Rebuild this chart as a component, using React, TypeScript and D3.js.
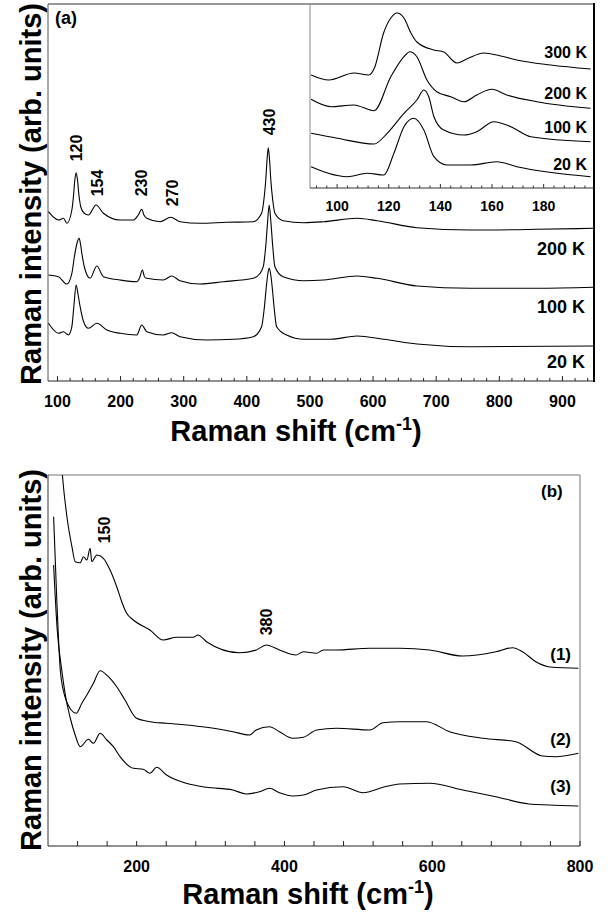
import * as d3 from 'd3';

type Pt = [number, number];

// Panel (a): main spectra, Raman shift (cm-1) vs stacked intensity (arb.)
const spec200K: Pt[] = [
  [85.8, 169.3], [101.6, 161], [109.5, 162.7], [114.9, 157.7], [122.8, 171], [125.5, 186], [127.5, 201],
  [129.6, 208.3], [131.7, 201], [134, 186], [137, 174], [142, 168], [149, 166], [161.2, 176], [172.8, 167.7],
  [199.2, 161], [220.3, 161], [228, 166], [233.5, 171.7], [237, 166], [241.5, 162.7], [262.5, 159.3],
  [279.4, 163.7], [294.1, 159.3], [325.8, 157.7], [368, 158.7], [410.1, 159.3], [423.4, 167.7], [427, 181],
  [430, 201], [432, 221], [434, 233.3], [436, 221], [438, 201], [441, 181], [444.5, 167.7], [457.6, 160.3],
  [490.4, 158.3], [522, 159.3], [574.7, 162.7], [606.3, 160.3], [669.6, 153.3], [754.1, 151], [859.5, 151.7],
  [949.2, 152.7],
];
const spec100K: Pt[] = [
  [85.8, 106], [101.6, 104.3], [114.9, 97], [122.8, 107.7], [127, 125], [131, 138], [134.3, 142.7],
  [136.5, 137], [138.6, 127.7], [143, 113], [151.7, 102.7], [162.3, 115], [172.8, 104.3], [199.2, 101],
  [225.6, 99.3], [230, 103], [234.5, 111], [238, 104], [241.5, 102.7], [267.7, 101], [281, 105], [294.1, 100.3],
  [325.8, 97], [362.7, 99.3], [410.1, 102.7], [420, 107], [426, 114.3], [430, 135], [433, 160], [435.4, 176],
  [438, 160], [441, 135], [444.5, 114.3], [457.6, 104.3], [490.4, 100.3], [522, 101], [574.7, 105],
  [606.3, 102.7], [669.6, 95], [754.1, 92.7], [859.5, 92.7], [949.2, 93.7],
];
const spec20K: Pt[] = [
  [85.8, 57.7], [101.6, 47.7], [109.5, 49.3], [117.4, 46], [122.8, 54.3], [126, 75], [129.6, 96], [132.5, 87],
  [135.9, 74.3], [141, 60], [149, 52.7], [162.3, 57.7], [178.2, 51], [199.2, 47.7], [225.6, 46], [233.5, 56],
  [241.5, 49.3], [267.7, 46], [281, 48.3], [294.1, 44.3], [336.3, 41], [378.5, 41.7], [410.1, 44.3],
  [423.4, 54.3], [428, 75], [431, 95], [433.5, 108], [435.4, 112.7], [437.5, 108], [440, 95], [443, 75],
  [447.2, 54.3], [463, 46], [490.4, 41.7], [532.6, 41.7], [574.7, 45], [616.9, 41.7], [669.6, 37],
  [754.1, 34.3], [949.2, 35],
];
const mainLabels = ['200 K', '100 K', '20 K'];
const mainPeaks = [
  { label: '120', x: 129.6 }, { label: '154', x: 161 }, { label: '230', x: 233 },
  { label: '270', x: 282 }, { label: '430', x: 434 },
];
const mainTicks = [100, 200, 300, 400, 500, 600, 700, 800, 900];

// Panel (a) inset: low-frequency region
const inset300K: Pt[] = [
  [89.9, 113], [96.8, 108], [106.5, 115], [112.3, 113], [114.6, 121], [118, 155], [120.8, 170], [123.2, 175],
  [125.9, 170], [128.6, 155], [130.9, 146], [137.5, 138], [141.3, 136], [146.4, 125], [150.2, 129],
  [156.8, 135], [163.4, 132], [169.6, 128], [182.7, 123], [198.2, 119],
];
const inset200K: Pt[] = [
  [89.9, 88.7], [97.6, 81.3], [106.5, 83], [114.3, 77.3], [120.8, 111.3], [125.9, 131.3], [128.2, 136.3],
  [130.9, 131.3], [134.8, 108], [138.6, 96.3], [144, 91.3], [149.1, 86.3], [154.1, 93], [159.9, 98.7],
  [165.7, 93], [177.3, 86.3], [198.2, 79.7],
];
const inset100K: Pt[] = [
  [89.9, 54.7], [100.1, 49.7], [114.3, 44], [119.4, 54.7], [125.9, 74.7], [130.9, 88], [133.6, 98],
  [135.5, 91.3], [137.5, 71.3], [141.3, 58], [149.1, 53], [154.1, 56.3], [160.7, 66.3], [167.3, 61.3],
  [175, 51.3], [198.2, 46.3],
];
const inset20K: Pt[] = [
  [89.9, 21.3], [104, 11.3], [111.7, 14.7], [118.1, 13], [122, 34.7], [125.9, 61.3], [129.7, 69.7],
  [133.6, 58], [137.5, 31.3], [142.5, 23], [151.8, 23], [161.8, 26.3], [169.6, 21.3], [198.2, 11.3],
];
const insetLabels = ['300 K', '200 K', '100 K', '20 K'];
const insetTicks = [100, 120, 140, 160, 180];

// Panel (b)
const specB1: Pt[] = [
  [95, 420], [99.7, 369.3], [105.6, 329.3], [112.4, 299.3], [116.8, 284.3], [123.6, 283.3], [128, 289.3],
  [132.6, 286], [137, 297.7], [139.3, 284.3], [146.1, 291], [154.9, 287.7], [164, 276], [173, 259.3],
  [179.8, 244.3], [186.5, 232.7], [195.4, 226], [217.9, 216], [235.9, 206], [253.9, 208.7], [276.3, 208.7],
  [283.1, 211], [294.4, 204.3], [339.3, 193.3], [361.8, 196], [375.3, 201], [393.2, 196], [415.7, 191],
  [425.6, 194.3], [443.5, 192.7], [452.5, 196], [470.5, 196], [515.5, 197.7], [556, 197.7], [596.4, 196],
  [641.3, 190], [686.2, 194.3], [708.7, 198.3], [722.2, 194.3], [740.1, 184.3], [762.6, 178.7], [797.8, 177.7],
];
const specB2: Pt[] = [
  [87.6, 329.3], [91.9, 246], [96.6, 176], [100.6, 156], [106, 143], [111.4, 136], [118.2, 132.7],
  [125.8, 142.7], [132.6, 151], [141.5, 162.7], [150.5, 175.3], [161.7, 169.3], [173, 159.3], [184.2, 146],
  [200, 127.7], [217.9, 124.3], [240.4, 122.7], [267.4, 121], [294.4, 118.7], [330.2, 114.3], [352.8, 111],
  [361.8, 116], [379.7, 119.3], [393.2, 114.3], [411.1, 107.7], [425.6, 108.7], [443.5, 116], [470.5, 117.7],
  [515.5, 116], [533.4, 123.3], [556, 124.3], [591.9, 124.3], [623.4, 114.3], [668.3, 107.7], [713.2, 104.3],
  [749.2, 90], [767.1, 89.3], [797.8, 92.7],
];
const specB3: Pt[] = [
  [87.6, 281], [92.5, 216], [98.6, 176], [104.7, 146], [110.1, 128], [116.8, 111], [123.6, 99.3],
  [134.7, 106.7], [141.5, 102.7], [150.5, 112.7], [159.6, 106], [168.5, 99.3], [177.5, 89.3], [195.4, 77.7],
  [208.9, 76.7], [217.9, 72.7], [227, 78.7], [240.4, 71], [267.4, 62.7], [294.4, 58.7], [330.2, 56],
  [348.3, 52], [366.2, 54.3], [379.7, 57.7], [393.2, 53.3], [411.1, 50], [425.6, 51], [443.5, 56],
  [479.5, 59.3], [506.5, 53.3], [533.4, 58.7], [556, 62], [596.4, 62.7], [641.3, 56], [686.2, 49.3],
  [731.2, 42], [758.2, 41], [797.8, 40],
];
const bLabels = ['(1)', '(2)', '(3)'];
const bPeaks = [{ label: '150', x: 150 }, { label: '380', x: 380 }];
const bTicks = [200, 400, 600, 800];

const FONT = '"Liberation Sans", Arial, sans-serif';

export default function App() {
  const W = 608, H = 912;

  // scales
  const xA = d3.scaleLinear().domain([85, 950]).range([48, 594]);
  const yA = d3.scaleLinear().domain([0, 377]).range([381, 4]);
  const xI = d3.scaleLinear().domain([89.5, 199.5]).range([310, 594]);
  const yI = d3.scaleLinear().domain([0, 184]).range([188, 4]);
  const xB = d3.scaleLinear().domain([80, 800]).range([48, 580]);
  const yB = d3.scaleLinear().domain([0, 371]).range([846, 475]);

  const lineA = d3.line<Pt>().x(d => xA(d[0])).y(d => yA(d[1])).curve(d3.curveMonotoneX);
  const lineI = d3.line<Pt>().x(d => xI(d[0])).y(d => yI(d[1])).curve(d3.curveMonotoneX);
  const lineB = d3.line<Pt>().x(d => xB(d[0])).y(d => yB(d[1])).curve(d3.curveMonotoneX);

  const mainSeries = [spec200K, spec100K, spec20K];
  const mainLabelY = [254.5, 313, 368];
  const insetSeries = [inset300K, inset200K, inset100K, inset20K];
  const insetLabelY = [58, 99, 133, 170];
  const bSeries = [specB1, specB2, specB3];
  const bLabelY = [660, 745, 792];

  const bold = { fontFamily: FONT, fontWeight: 700 as const };

  const title = (x: number, y: number, rotate: boolean, text: string) => (
    <text
      transform={`translate(${x},${y})${rotate ? ' rotate(-90)' : ''}`}
      textAnchor="middle" fontSize={29} {...bold}
    >
      {text}
    </text>
  );
  const xTitle = (x: number, y: number) => (
    <text x={x} y={y} textAnchor="middle" fontSize={29} {...bold}>
      Raman shift (cm<tspan fontSize={18} dy={-11}>-1</tspan><tspan dy={11}>)</tspan>
    </text>
  );

  return (
    <svg width={W} height={H} style={{ position: 'absolute', left: 0, top: 0, background: '#fff' }}>
      <defs>
        <clipPath id="clipB"><rect x={48} y={475} width={532} height={371} /></clipPath>
      </defs>

      {/* ---- panel (a) ---- */}
      <line x1={48} x2={594} y1={4} y2={4} stroke="#333" />
      <line x1={48} x2={48} y1={4} y2={381} stroke="#555" />
      <line x1={48} x2={595} y1={381} y2={381} stroke="#222" />
      <line x1={594} x2={594} y1={3} y2={382} stroke="#000" strokeWidth={2} />
      {d3.range(100, 950, 20).map(t => (
        <line key={'ta' + t} x1={xA(t)} x2={xA(t)} y1={381} y2={381 - (t % 100 === 0 ? 5 : 3)} stroke="#222" />
      ))}
      {mainTicks.map(t => (
        <text key={'la' + t} x={xA(t)} y={407} textAnchor="middle" fontSize={16} {...bold}>{t}</text>
      ))}
      {mainSeries.map((s, i) => (
        <path key={'ma' + i} d={lineA(s) || ''} fill="none" stroke="#000" strokeWidth={1.1} />
      ))}
      {mainLabels.map((l, i) => (
        <text key={'ml' + i} x={585} y={mainLabelY[i]} textAnchor="end" fontSize={18} {...bold}>{l}</text>
      ))}
      {mainPeaks.map((p, i) => {
        const cy = [148, 183, 183, 193, 122][i];
        const bx = [82, 103, 147, 178, 275][i];
        return (
          <text key={'pa' + i} transform={`translate(${bx},${cy}) rotate(-90)`} textAnchor="middle" fontSize={16} {...bold}>
            {p.label}
          </text>
        );
      })}
      <text x={55} y={24} fontSize={18} {...bold}>(a)</text>

      {/* inset */}
      <line x1={310} x2={310} y1={4} y2={188} stroke="#888" />
      <line x1={310} x2={594} y1={188} y2={188} stroke="#333" />
      {d3.range(92, 200, 4).map(t => (
        <line key={'ti' + t} x1={xI(t)} x2={xI(t)} y1={188} y2={188 - (t % 20 === 0 ? 4 : 2.5)} stroke="#333" />
      ))}
      {insetTicks.map(t => (
        <text key={'li' + t} x={xI(t)} y={210.5} textAnchor="middle" fontSize={14} {...bold}>{t}</text>
      ))}
      {insetSeries.map((s, i) => (
        <path key={'is' + i} d={lineI(s) || ''} fill="none" stroke="#000" strokeWidth={1.1} />
      ))}
      {insetLabels.map((l, i) => (
        <text key={'il' + i} x={587} y={insetLabelY[i]} textAnchor="end" fontSize={16} {...bold}>{l}</text>
      ))}

      {title(41, 194, true, 'Raman intensity (arb. units)')}
      {xTitle(296, 441)}

      {/* ---- panel (b) ---- */}
      <line x1={48} x2={580} y1={475} y2={475} stroke="#777" />
      <line x1={580} x2={580} y1={475} y2={846} stroke="#777" />
      <line x1={48} x2={48} y1={475} y2={846} stroke="#333" />
      <line x1={48} x2={580} y1={846} y2={846} stroke="#222" />
      {d3.range(120, 801, 40).map(t => (
        <line key={'tb' + t} x1={xB(t)} x2={xB(t)} y1={846} y2={841} stroke="#222" />
      ))}
      {bTicks.map(t => (
        <text key={'lb' + t} x={xB(t)} y={872} textAnchor="middle" fontSize={16} {...bold}>{t}</text>
      ))}
      <g clipPath="url(#clipB)">
        {bSeries.map((s, i) => (
          <path key={'bs' + i} d={lineB(s) || ''} fill="none" stroke="#000" strokeWidth={1.1} />
        ))}
      </g>
      {bLabels.map((l, i) => (
        <text key={'bl' + i} x={571} y={bLabelY[i]} textAnchor="end" fontSize={17} {...bold}>{l}</text>
      ))}
      {bPeaks.map((p, i) => {
        const cy = [530, 622][i];
        const bx = [110, 271.5][i];
        return (
          <text key={'pb' + i} transform={`translate(${bx},${cy}) rotate(-90)`} textAnchor="middle" fontSize={16} {...bold}>
            {p.label}
          </text>
        );
      })}
      <text x={541} y={497} fontSize={17} {...bold}>(b)</text>

      {title(41, 660, true, 'Raman intensity (arb. units)')}
      {xTitle(308, 904)}
    </svg>
  );
}
